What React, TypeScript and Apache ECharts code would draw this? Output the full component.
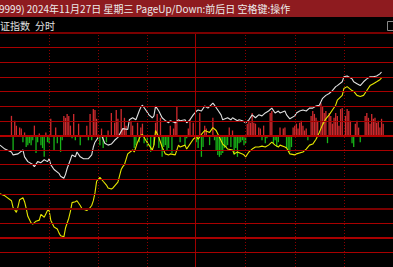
import React, { useEffect, useRef } from "react";
import * as echarts from "echarts";

// ---- data ----
const PREV_CLOSE = 3259.76;
const GRID_STEP = 11.5;
const GRID_LEVELS = [-8, -7, -6, -5, -4, -3, -2, -1, 0, 1, 2, 3, 4, 5, 6, 7];
const TIME_LINES = [30, 60, 90, 150, 180, 210];
const NOON_LINE = 119;

const HEADER_TEXT = "9999) 2024年11月27日 星期三 PageUp/Down:前后日 空格键:操作";
const TITLE_TEXT = "证指数";
const MODE_TEXT = "分时";

// [minute, index]
const indexLine: [number, number][] = [
  [0, 3252.1], [3, 3249.0], [7, 3246.7], [8, 3244.4], [11, 3245.2], [14, 3248.3], [15, 3242.9], [17, 3239.1],
  [20, 3236.8], [21, 3235.2], [23, 3239.1], [25, 3238.3], [27, 3240.6], [29, 3239.1], [30, 3241.4], [31, 3236.8],
  [33, 3232.9], [36, 3229.9], [37, 3227.6], [39, 3226.0], [40, 3229.1], [41, 3233.7], [43, 3240.6], [44, 3244.4],
  [46, 3242.9], [47, 3246.7], [49, 3242.9], [51, 3241.4], [54, 3241.4], [56, 3244.4], [57, 3250.6], [58, 3254.4],
  [60, 3258.2], [62, 3259.8], [64, 3253.6], [66, 3252.1], [68, 3252.9], [70, 3255.9], [72, 3258.2], [75, 3265.1],
  [78, 3264.4], [79, 3272.0], [81, 3273.6], [83, 3272.0], [85, 3278.9], [86, 3282.0], [87, 3283.5], [89, 3279.7],
  [91, 3275.9], [93, 3273.6], [94, 3275.1], [95, 3282.8], [97, 3278.9], [99, 3273.6], [101, 3271.3], [103, 3269.7],
  [104, 3271.3], [107, 3269.7], [109, 3272.0], [110, 3271.3], [113, 3272.0], [114, 3269.7], [116, 3272.0], [118, 3275.9],
  [120, 3278.9], [121, 3279.7], [123, 3278.9], [125, 3282.8], [127, 3281.2], [130, 3285.1], [131, 3283.5], [133, 3279.7],
  [135, 3275.9], [136, 3272.0], [139, 3273.6], [141, 3272.0], [142, 3273.6], [145, 3271.3], [146, 3272.0], [148, 3271.3],
  [150, 3269.7], [152, 3272.0], [154, 3275.9], [156, 3273.6], [158, 3275.9], [160, 3275.1], [162, 3277.4], [164, 3278.9],
  [166, 3281.2], [168, 3277.4], [170, 3278.9], [171, 3277.4], [174, 3278.9], [175, 3275.9], [177, 3272.8], [180, 3275.1],
  [181, 3277.4], [183, 3278.9], [185, 3279.7], [187, 3278.9], [189, 3281.2], [191, 3281.2], [193, 3282.8], [195, 3283.5],
  [197, 3288.9], [199, 3291.2], [201, 3292.7], [203, 3295.0], [205, 3298.1], [206, 3298.9], [209, 3301.9], [210, 3305.8],
  [212, 3306.5], [215, 3304.2], [216, 3301.9], [218, 3300.4], [220, 3298.9], [222, 3301.9], [224, 3304.2], [226, 3305.8],
  [228, 3305.8], [230, 3306.5], [232, 3308.1], [233, 3309.6],
];

// [minute, leading (equal-weight) index]
const leadingLine: [number, number][] = [
  [0, 3213.8], [3, 3212.2], [7, 3208.4], [8, 3203.0], [10, 3199.2], [11, 3203.8], [12, 3209.2], [14, 3210.7],
  [15, 3207.6], [16, 3202.3], [17, 3196.1], [19, 3190.8], [20, 3190.0], [22, 3192.3], [24, 3193.1], [25, 3197.7],
  [27, 3195.4], [29, 3200.7], [30, 3200.7], [31, 3193.1], [33, 3187.7], [35, 3186.2], [36, 3183.1], [37, 3180.8],
  [39, 3180.0], [40, 3186.9], [42, 3194.6], [43, 3200.0], [44, 3206.9], [46, 3207.6], [47, 3208.4], [49, 3204.6],
  [50, 3202.3], [53, 3200.7], [55, 3203.0], [56, 3204.6], [57, 3208.4], [58, 3214.5], [59, 3223.7], [61, 3226.8],
  [63, 3223.7], [65, 3220.7], [66, 3218.4], [68, 3217.6], [69, 3218.4], [72, 3223.0], [74, 3232.9], [75, 3235.2],
  [76, 3236.8], [78, 3245.2], [81, 3248.3], [82, 3246.7], [84, 3254.4], [86, 3259.8], [87, 3260.5], [89, 3255.9],
  [91, 3252.1], [93, 3248.3], [94, 3252.1], [95, 3263.6], [97, 3258.2], [99, 3250.6], [101, 3245.2], [103, 3244.4],
  [104, 3245.2], [107, 3244.4], [109, 3252.1], [110, 3250.6], [113, 3252.1], [114, 3249.0], [116, 3252.9], [118, 3256.7],
  [120, 3259.0], [121, 3256.7], [123, 3260.5], [125, 3263.6], [128, 3262.1], [130, 3265.9], [132, 3263.6], [134, 3258.2],
  [136, 3252.9], [138, 3250.6], [139, 3249.0], [142, 3248.3], [143, 3245.2], [145, 3246.7], [148, 3245.2], [149, 3244.4],
  [150, 3242.9], [152, 3246.7], [154, 3249.0], [156, 3250.6], [158, 3250.6], [160, 3251.3], [162, 3250.6], [164, 3252.1],
  [166, 3254.4], [168, 3252.1], [170, 3250.6], [171, 3252.1], [174, 3250.6], [175, 3249.8], [177, 3245.2], [180, 3244.4],
  [181, 3245.2], [185, 3246.7], [187, 3249.0], [189, 3252.1], [191, 3252.9], [193, 3256.7], [195, 3262.1], [197, 3268.2],
  [199, 3272.8], [201, 3275.9], [203, 3279.7], [205, 3283.5], [206, 3287.4], [209, 3291.2], [210, 3296.6], [212, 3298.1],
  [215, 3295.0], [216, 3294.3], [218, 3291.2], [220, 3290.4], [222, 3291.2], [224, 3295.0], [226, 3298.9], [228, 3300.4],
  [230, 3301.9], [232, 3303.5], [233, 3305.0],
];

// [minute, up/down strength] (positive red, negative green)
const breadthBars: [number, number][] = [
  [7, 20], [8, -15], [9, 15], [10, 10], [12, 8], [13, 7], [14, -7], [15, 3], [16, -12], [17, -10], [18, -8], [19, -10],
  [20, -5], [21, 10], [22, -18], [23, -7], [24, 2], [25, -10], [26, -13], [27, -22], [28, 3], [29, -7], [30, -8], [31, 17],
  [33, -15], [34, 8], [35, -8], [37, -17], [38, -5], [39, 20], [40, 18], [41, 22], [42, 20], [43, 10], [44, -3], [45, 22],
  [46, -5], [48, 12], [49, -10], [53, 10], [54, -5], [55, 22], [56, -5], [57, 27], [58, 26], [59, 17], [60, -3], [61, -10],
  [62, 7], [63, -13], [65, -7], [66, 5], [68, 23], [70, 13], [71, 26], [72, 17], [74, 27], [75, 7], [76, 18], [77, 10],
  [80, 15], [81, 10], [82, -13], [83, -10], [84, 13], [85, -7], [86, 8], [87, 12], [88, -8], [90, -12], [92, -17], [94, -10],
  [95, 13], [96, 22], [97, -13], [98, 18], [99, -22], [100, -12], [101, -10], [102, -15], [103, -13], [104, 10], [105, -18],
  [106, 7], [107, 13], [108, 29], [110, -7], [113, -10], [114, -3], [115, 7], [116, 17], [118, 13], [120, -7], [121, -13],
  [122, 23], [123, -22], [124, -12], [125, 10], [126, 7], [128, -10], [130, 18], [131, -5], [132, -15], [133, -20],
  [134, -22], [135, -20], [136, -18], [137, -13], [138, -12], [139, -10], [140, 8], [141, -12], [142, 5], [143, -20],
  [144, -13], [145, -22], [146, -8], [147, -7], [148, -5], [149, -10], [150, -8], [151, 12], [152, 15], [153, 13],
  [154, 23], [155, 13], [156, 12], [158, 8], [159, 7], [160, -5], [161, 10], [162, -8], [163, -3], [165, 23], [166, 25],
  [167, -8], [168, -5], [169, -12], [170, -7], [171, 8], [173, 7], [174, 8], [175, -13], [176, -15], [177, -17],
  [178, -12], [179, 8], [180, 10], [181, 12], [182, 7], [183, 13], [184, 15], [185, 10], [186, 5], [187, 7], [188, -5],
  [190, 20], [191, 25], [192, 22], [193, 18], [194, 15], [196, 33], [197, 30], [198, 23], [199, 25], [200, -8], [201, 23],
  [202, 20], [203, 12], [204, 18], [205, 23], [206, 20], [207, 10], [208, 27], [209, 28], [211, 20], [212, 27], [213, 25],
  [214, 15], [215, -8], [216, -12], [217, 12], [218, 15], [219, 8], [220, -7], [223, 20], [224, 23], [225, 18], [226, 12],
  [227, 22], [228, 17], [229, 18], [230, 13], [231, 15], [232, 8], [233, 17], [234, 12],
];

function levelStyle(k: number) {
  if (k === 7) return { color: "#7a0000", width: 2, type: "solid" as const };
  if (k === 0) return { color: "#b40000", width: 2, type: "solid" as const };
  if (k === -5) return { color: "#7a0000", width: 2, type: "solid" as const };
  if (k === -7) return { color: "#a80000", width: 2, type: "solid" as const };
  return { color: "#a80000", width: 1, type: "solid" as const };
}

export default function App() {
  const ref = useRef<HTMLDivElement>(null);

  useEffect(() => {
    if (!ref.current) return;
    const chart = echarts.init(ref.current, null, { renderer: "svg" });
    const font = '"Noto Sans CJK SC", "Noto Sans", sans-serif';

    const hLines = GRID_LEVELS.map((k) => ({
      yAxis: PREV_CLOSE + k * GRID_STEP,
      lineStyle: levelStyle(k),
    }));
    const vLines: any[] = TIME_LINES.map((m) => ({
      xAxis: m,
      lineStyle: { color: "#8a0000", width: 1, type: [1, 2] },
    }));
    vLines.push({ xAxis: NOON_LINE, lineStyle: { color: "#a00000", width: 1, type: "solid" } });

    chart.setOption({
      animation: false,
      backgroundColor: "#000000",
      grid: { left: -11, top: 33, width: 412, height: 240 },
      xAxis: { type: "value", min: 0, max: 240, show: false },
      yAxis: [
        { type: "value", min: PREV_CLOSE - 9 * GRID_STEP, max: PREV_CLOSE + 7 * GRID_STEP, show: false },
        { type: "value", min: -135, max: 105, show: false },
      ],
      graphic: [
        { type: "rect", left: 0, top: 0, shape: { x: 0, y: 0, width: 393, height: 17 }, style: { fill: "#8e1b1f" }, silent: true },
        {
          type: "text", x: -1, y: 8.5, silent: true,
          style: { text: HEADER_TEXT, fill: "#ececec", font: `10px ${font}`, textVerticalAlign: "middle", textAlign: "left" } as any,
        },
        {
          type: "text", x: 0, y: 25, silent: true,
          style: { text: TITLE_TEXT, fill: "#e0e0e0", font: `10px ${font}`, textVerticalAlign: "middle", textAlign: "left" } as any,
        },
        {
          type: "text", x: 35, y: 25, silent: true,
          style: { text: MODE_TEXT, fill: "#e0e0e0", font: `10px ${font}`, textVerticalAlign: "middle", textAlign: "left" } as any,
        },
        {
          type: "rect", silent: true,
          shape: { x: 387.5, y: 21.5, width: 9, height: 9 },
          style: { fill: "none", stroke: "#8a8a8a", lineWidth: 1 },
        },
      ],
      series: [
        {
          type: "line",
          data: [[0, PREV_CLOSE]],
          showSymbol: false,
          lineStyle: { opacity: 0 },
          z: 1,
          silent: true,
          markLine: {
            silent: true,
            symbol: ["none", "none"],
            label: { show: false },
            data: [...vLines, ...hLines],
          },
        },
        {
          type: "bar",
          yAxisIndex: 1,
          barWidth: 1.3,
          z: 2,
          silent: true,
          data: breadthBars.map(([m, v]) => ({
            value: [m, v],
            itemStyle: { color: v > 0 ? "#d02a2e" : "#18b418" },
          })),
        },
        {
          type: "line",
          data: indexLine,
          showSymbol: false,
          z: 4,
          silent: true,
          lineStyle: { color: "#e0e0e0", width: 1.1 },
        },
        {
          type: "line",
          data: leadingLine,
          showSymbol: false,
          z: 3,
          silent: true,
          lineStyle: { color: "#e6e600", width: 1.1 },
        },
      ],
    });

    return () => chart.dispose();
  }, []);

  return (
    <div
      ref={ref}
      style={{ position: "fixed", left: 0, top: 0, width: 393, height: 267, background: "#000" }}
    />
  );
}
